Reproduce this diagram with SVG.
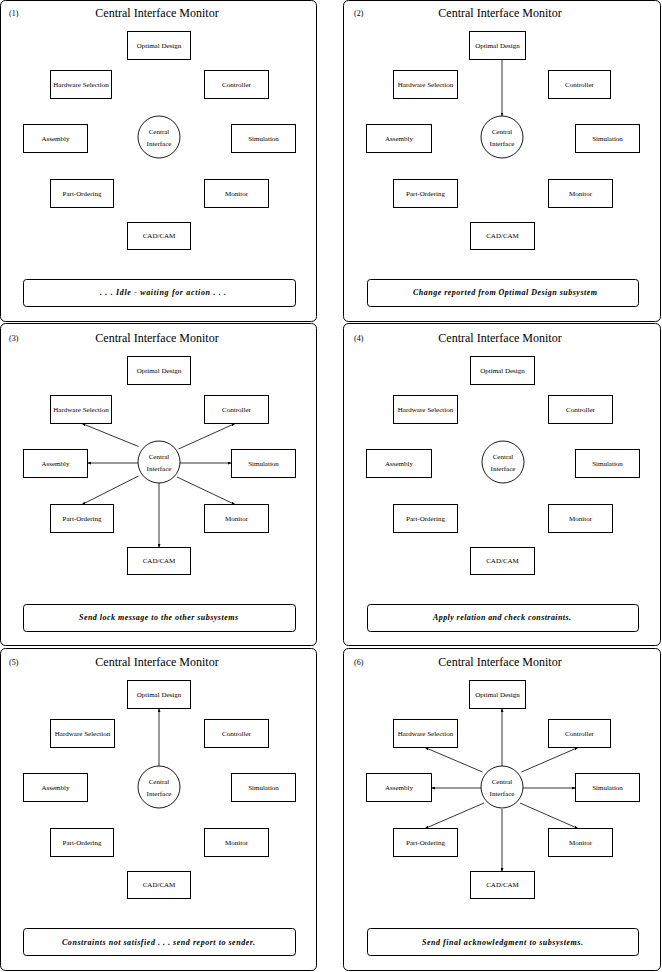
<svg xmlns="http://www.w3.org/2000/svg" width="662" height="972" viewBox="0 0 662 972">
<defs>
<style>
.frame{fill:#fff;stroke:#000;stroke-width:1}
.box{fill:#fff;stroke:#000;stroke-width:1}
.ci{fill:#fff;stroke:#000;stroke-width:0.9}
.msgbox{fill:#fff;stroke:#000;stroke-width:1}
text{font-family:"Liberation Serif","Times New Roman",serif;fill:#000}
.lbl{font-size:7px;text-anchor:middle}
.title{font-size:12px;text-anchor:middle}
.num{font-size:8px}
.msg{font-size:8px;font-style:italic;font-weight:bold;text-anchor:middle}
.conn{stroke:#000;stroke-width:0.8;fill:none;marker-end:url(#ah)}
</style>
<marker id="ah" markerUnits="userSpaceOnUse" markerWidth="3.5" markerHeight="3" refX="3.5" refY="1.5" orient="auto">
<path d="M0,0 L3.5,1.5 L0,3 z" fill="#000"/>
</marker>
</defs>
<rect width="662" height="972" fill="#fff"/>

<!-- Panel frames -->
<g id="frames">
<rect class="frame" x="0.5" y="0.5" width="316" height="321" rx="5"/>
<rect class="frame" x="343.5" y="0.5" width="317" height="321" rx="5"/>
<rect class="frame" x="0.5" y="323.5" width="316" height="322" rx="5"/>
<rect class="frame" x="343.5" y="323.5" width="317" height="322" rx="5"/>
<rect class="frame" x="0.5" y="648.5" width="316" height="322" rx="5"/>
<rect class="frame" x="343.5" y="648.5" width="317" height="322" rx="5"/>
</g>

<!-- Panel 1 -->
<g id="panel1">
<text class="num" x="9" y="16">(1)</text>
<text class="title" x="157" y="17">Central Interface Monitor</text>
<g id="p1-optimal"><rect class="box" x="127.5" y="31.5" width="63" height="28"/><text class="lbl" x="159" y="47.5">Optimal Design</text></g>
<g id="p1-hardware"><rect class="box" x="50.5" y="70.5" width="61" height="28"/><text class="lbl" x="81" y="86.5">Hardware Selection</text></g>
<g id="p1-controller"><rect class="box" x="204.5" y="70.5" width="64" height="28"/><text class="lbl" x="236.5" y="86.5">Controller</text></g>
<g id="p1-assembly"><rect class="box" x="23.5" y="124.5" width="64" height="28"/><text class="lbl" x="55.5" y="140.5">Assembly</text></g>
<g id="p1-simulation"><rect class="box" x="231.5" y="124.5" width="64" height="28"/><text class="lbl" x="263.5" y="140.5">Simulation</text></g>
<g id="p1-central"><circle class="ci" cx="159" cy="137" r="21"/><text class="lbl" x="159" y="134">Central</text><text class="lbl" x="159" y="146">Interface</text></g>
<g id="p1-partordering"><rect class="box" x="50.5" y="179.5" width="63" height="28"/><text class="lbl" x="82" y="195.5">Part-Ordering</text></g>
<g id="p1-monitor"><rect class="box" x="204.5" y="179.5" width="64" height="28"/><text class="lbl" x="236.5" y="195.5">Monitor</text></g>
<g id="p1-cadcam"><rect class="box" x="127.5" y="222.5" width="63" height="27"/><text class="lbl" x="159" y="238">CAD/CAM</text></g>
<g id="p1-message"><rect class="msgbox" x="23.5" y="279.5" width="272" height="27" rx="3"/><text class="msg" x="163" y="295" textLength="126" lengthAdjust="spacing">. . .  Idle  -  waiting for action  . . .</text></g>
</g>

<!-- Panel 2 -->
<g id="panel2">
<text class="num" x="354" y="16">(2)</text>
<text class="title" x="500" y="17">Central Interface Monitor</text>
<g id="p2-optimal"><rect class="box" x="469.5" y="31.5" width="56" height="28"/><text class="lbl" x="497.5" y="47.5">Optimal Design</text></g>
<g id="p2-hardware"><rect class="box" x="393.5" y="70.5" width="64" height="28"/><text class="lbl" x="425.5" y="86.5">Hardware Selection</text></g>
<g id="p2-controller"><rect class="box" x="548.5" y="70.5" width="62" height="28"/><text class="lbl" x="579.5" y="86.5">Controller</text></g>
<g id="p2-assembly"><rect class="box" x="366.5" y="124.5" width="65" height="28"/><text class="lbl" x="399" y="140.5">Assembly</text></g>
<g id="p2-simulation"><rect class="box" x="575.5" y="124.5" width="64" height="28"/><text class="lbl" x="607.5" y="140.5">Simulation</text></g>
<g id="p2-central"><circle class="ci" cx="502" cy="137" r="21"/><text class="lbl" x="502" y="134">Central</text><text class="lbl" x="502" y="146">Interface</text></g>
<g id="p2-partordering"><rect class="box" x="393.5" y="179.5" width="64" height="28"/><text class="lbl" x="425.5" y="195.5">Part-Ordering</text></g>
<g id="p2-monitor"><rect class="box" x="548.5" y="179.5" width="64" height="28"/><text class="lbl" x="580.5" y="195.5">Monitor</text></g>
<g id="p2-cadcam"><rect class="box" x="470.5" y="222.5" width="64" height="27"/><text class="lbl" x="502.5" y="238">CAD/CAM</text></g>
<g id="p2-message"><rect class="msgbox" x="367.5" y="279.5" width="271" height="27" rx="3"/><text class="msg" x="505" y="295" textLength="184" lengthAdjust="spacing">Change reported from Optimal Design subsystem</text></g>
</g>

<!-- Panel 3 -->
<g id="panel3" transform="translate(0,325)">
<text class="num" x="9" y="16">(3)</text>
<text class="title" x="157" y="17">Central Interface Monitor</text>
<g id="p3-optimal"><rect class="box" x="127.5" y="31.5" width="63" height="28"/><text class="lbl" x="159" y="47.5">Optimal Design</text></g>
<g id="p3-hardware"><rect class="box" x="50.5" y="70.5" width="61" height="28"/><text class="lbl" x="81" y="86.5">Hardware Selection</text></g>
<g id="p3-controller"><rect class="box" x="204.5" y="70.5" width="64" height="28"/><text class="lbl" x="236.5" y="86.5">Controller</text></g>
<g id="p3-assembly"><rect class="box" x="23.5" y="124.5" width="64" height="28"/><text class="lbl" x="55.5" y="140.5">Assembly</text></g>
<g id="p3-simulation"><rect class="box" x="231.5" y="124.5" width="64" height="28"/><text class="lbl" x="263.5" y="140.5">Simulation</text></g>
<g id="p3-central"><circle class="ci" cx="159" cy="137" r="21"/><text class="lbl" x="159" y="134">Central</text><text class="lbl" x="159" y="146">Interface</text></g>
<g id="p3-partordering"><rect class="box" x="50.5" y="179.5" width="63" height="28"/><text class="lbl" x="82" y="195.5">Part-Ordering</text></g>
<g id="p3-monitor"><rect class="box" x="204.5" y="179.5" width="64" height="28"/><text class="lbl" x="236.5" y="195.5">Monitor</text></g>
<g id="p3-cadcam"><rect class="box" x="127.5" y="222.5" width="63" height="27"/><text class="lbl" x="159" y="238">CAD/CAM</text></g>
<g id="p3-message"><rect class="msgbox" x="23.5" y="279.5" width="272" height="27" rx="3"/><text class="msg" x="158.5" y="295" textLength="159" lengthAdjust="spacing">Send lock message to the other subsystems</text></g>
</g>

<!-- Panel 4 -->
<g id="panel4" transform="translate(0,325)">
<text class="num" x="354" y="16">(4)</text>
<text class="title" x="500" y="17">Central Interface Monitor</text>
<g id="p4-optimal"><rect class="box" x="470.5" y="31.5" width="64" height="28"/><text class="lbl" x="502.5" y="47.5">Optimal Design</text></g>
<g id="p4-hardware"><rect class="box" x="393.5" y="70.5" width="64" height="28"/><text class="lbl" x="425.5" y="86.5">Hardware Selection</text></g>
<g id="p4-controller"><rect class="box" x="548.5" y="70.5" width="64" height="28"/><text class="lbl" x="580.5" y="86.5">Controller</text></g>
<g id="p4-assembly"><rect class="box" x="366.5" y="124.5" width="65" height="28"/><text class="lbl" x="399" y="140.5">Assembly</text></g>
<g id="p4-simulation"><rect class="box" x="575.5" y="124.5" width="64" height="28"/><text class="lbl" x="607.5" y="140.5">Simulation</text></g>
<g id="p4-central"><circle class="ci" cx="503" cy="137" r="21"/><text class="lbl" x="503" y="134">Central</text><text class="lbl" x="503" y="146">Interface</text></g>
<g id="p4-partordering"><rect class="box" x="393.5" y="179.5" width="64" height="28"/><text class="lbl" x="425.5" y="195.5">Part-Ordering</text></g>
<g id="p4-monitor"><rect class="box" x="548.5" y="179.5" width="64" height="28"/><text class="lbl" x="580.5" y="195.5">Monitor</text></g>
<g id="p4-cadcam"><rect class="box" x="470.5" y="222.5" width="64" height="27"/><text class="lbl" x="502.5" y="238">CAD/CAM</text></g>
<g id="p4-message"><rect class="msgbox" x="367.5" y="279.5" width="271" height="27" rx="3"/><text class="msg" x="502" y="295" textLength="138" lengthAdjust="spacing">Apply relation and check constraints.</text></g>
</g>

<!-- Panel 5 -->
<g id="panel5" transform="translate(0,649)">
<text class="num" x="9" y="16">(5)</text>
<text class="title" x="157" y="17">Central Interface Monitor</text>
<g id="p5-optimal"><rect class="box" x="127.5" y="31.5" width="63" height="28"/><text class="lbl" x="159" y="47.5">Optimal Design</text></g>
<g id="p5-hardware"><rect class="box" x="50.5" y="70.5" width="64" height="28"/><text class="lbl" x="82.5" y="86.5">Hardware Selection</text></g>
<g id="p5-controller"><rect class="box" x="204.5" y="70.5" width="64" height="28"/><text class="lbl" x="236.5" y="86.5">Controller</text></g>
<g id="p5-assembly"><rect class="box" x="23.5" y="124.5" width="64" height="28"/><text class="lbl" x="55.5" y="140.5">Assembly</text></g>
<g id="p5-simulation"><rect class="box" x="231.5" y="124.5" width="64" height="28"/><text class="lbl" x="263.5" y="140.5">Simulation</text></g>
<g id="p5-central"><circle class="ci" cx="159" cy="138" r="21"/><text class="lbl" x="159" y="135">Central</text><text class="lbl" x="159" y="147">Interface</text></g>
<g id="p5-partordering"><rect class="box" x="50.5" y="179.5" width="63" height="28"/><text class="lbl" x="82" y="195.5">Part-Ordering</text></g>
<g id="p5-monitor"><rect class="box" x="204.5" y="179.5" width="64" height="28"/><text class="lbl" x="236.5" y="195.5">Monitor</text></g>
<g id="p5-cadcam"><rect class="box" x="127.5" y="222.5" width="63" height="27"/><text class="lbl" x="159" y="238">CAD/CAM</text></g>
<g id="p5-message"><rect class="msgbox" x="23.5" y="279.5" width="272" height="27" rx="3"/><text class="msg" x="158.5" y="295.5" textLength="193" lengthAdjust="spacing">Constraints  not satisfied  . . .  send report to sender.</text></g>
</g>

<!-- Panel 6 -->
<g id="panel6" transform="translate(0,649)">
<text class="num" x="354" y="16">(6)</text>
<text class="title" x="500" y="17">Central Interface Monitor</text>
<g id="p6-optimal"><rect class="box" x="469.5" y="31.5" width="56" height="28"/><text class="lbl" x="497.5" y="47.5">Optimal Design</text></g>
<g id="p6-hardware"><rect class="box" x="393.5" y="70.5" width="64" height="28"/><text class="lbl" x="425.5" y="86.5">Hardware Selection</text></g>
<g id="p6-controller"><rect class="box" x="548.5" y="70.5" width="62" height="28"/><text class="lbl" x="579.5" y="86.5">Controller</text></g>
<g id="p6-assembly"><rect class="box" x="366.5" y="124.5" width="65" height="28"/><text class="lbl" x="399" y="140.5">Assembly</text></g>
<g id="p6-simulation"><rect class="box" x="575.5" y="124.5" width="64" height="28"/><text class="lbl" x="607.5" y="140.5">Simulation</text></g>
<g id="p6-central"><circle class="ci" cx="502" cy="138" r="21"/><text class="lbl" x="502" y="135">Central</text><text class="lbl" x="502" y="147">Interface</text></g>
<g id="p6-partordering"><rect class="box" x="393.5" y="179.5" width="64" height="28"/><text class="lbl" x="425.5" y="195.5">Part-Ordering</text></g>
<g id="p6-monitor"><rect class="box" x="548.5" y="179.5" width="64" height="28"/><text class="lbl" x="580.5" y="195.5">Monitor</text></g>
<g id="p6-cadcam"><rect class="box" x="470.5" y="222.5" width="64" height="27"/><text class="lbl" x="502.5" y="238">CAD/CAM</text></g>
<g id="p6-message"><rect class="msgbox" x="367.5" y="279.5" width="271" height="27" rx="3"/><text class="msg" x="502.5" y="295.5" textLength="161" lengthAdjust="spacing">Send final acknowledgment to subsystems.</text></g>
</g>

<!-- Connectors -->
<g id="connectors">
<line class="conn" x1="502" y1="59.5" x2="502" y2="116"/>

<line class="conn" x1="138.5" y1="446.5" x2="82" y2="423.5"/>
<line class="conn" x1="178.5" y1="449" x2="235" y2="423.5"/>
<line class="conn" x1="138" y1="463" x2="87.5" y2="463"/>
<line class="conn" x1="180" y1="463" x2="231.5" y2="463"/>
<line class="conn" x1="138.5" y1="476" x2="82" y2="504.5"/>
<line class="conn" x1="177" y1="477" x2="235" y2="504.5"/>
<line class="conn" x1="159" y1="483" x2="159" y2="547.5"/>

<line class="conn" x1="159" y1="766" x2="159" y2="708.5"/>

<line class="conn" x1="502" y1="766" x2="502" y2="708.5"/>
<line class="conn" x1="482.5" y1="772" x2="425" y2="747.5"/>
<line class="conn" x1="521.5" y1="772" x2="578" y2="747.5"/>
<line class="conn" x1="481" y1="788" x2="431.5" y2="788"/>
<line class="conn" x1="523" y1="788" x2="575.5" y2="788"/>
<line class="conn" x1="484" y1="803" x2="425" y2="828.5"/>
<line class="conn" x1="520" y1="803" x2="578" y2="828.5"/>
<line class="conn" x1="502" y1="809" x2="502" y2="871.5"/>
</g>
</svg>
